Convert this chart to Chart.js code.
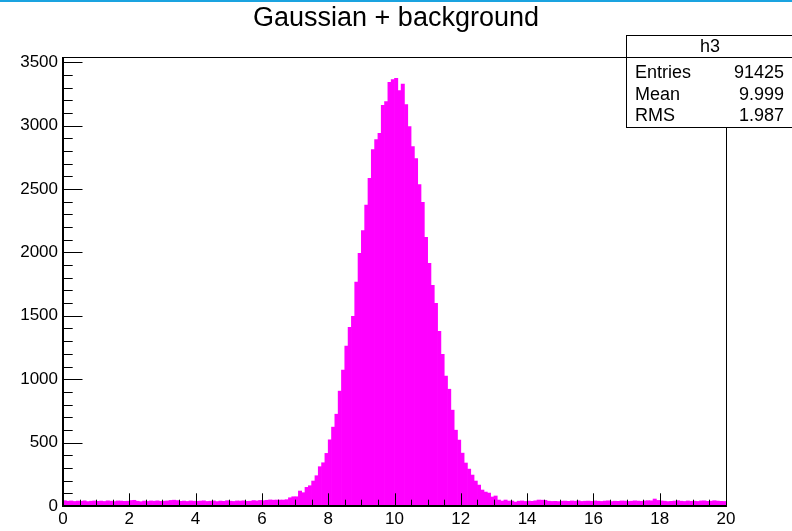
<!DOCTYPE html>
<html>
<head>
<meta charset="utf-8">
<script src="https://cdn.jsdelivr.net/npm/chart.js@4/dist/chart.umd.min.js"></script>
<style>
  html, body { margin: 0; padding: 0; background: #ffffff; }
  #wrap { width: 792px; height: 531px; position: relative; }
</style>
</head>
<body>
<div id="wrap"><canvas id="c" width="792" height="531"></canvas></div>
<script>
// ---- data (histogram h3: 200 bins, 0..20) ----
const histName = "h3";
const chartTitle = "Gaussian + background";
const xMin = 0, xMax = 20, binWidth = 0.1;
const binCounts = [
  // 0.0 - 0.9
  42, 38, 40, 36, 39, 37, 41, 35, 38, 40,
  // 1.0 - 1.9
  37, 39, 36, 41, 38, 35, 40, 39, 37, 38,
  // 2.0 - 2.9
  43, 45, 38, 34, 39, 36, 40, 38, 41, 37,
  // 3.0 - 3.9
  38, 40, 44, 46, 43, 37, 39, 36, 40, 38,
  // 4.0 - 4.9
  37, 39, 41, 36, 38, 40, 35, 39, 37, 42,
  // 5.0 - 5.9
  38, 36, 40, 39, 41, 37, 38, 43, 40, 44,
  // 6.0 - 6.9
  42, 45, 48, 46, 47, 47, 47, 50, 65, 73,
  // 7.0 - 7.9
  73, 118, 105, 147, 160, 197, 239, 310, 341, 415,
  // 8.0 - 8.9
  522, 622, 724, 906, 1071, 1262, 1409, 1496, 1766, 1992,
  // 9.0 - 9.9
  2173, 2373, 2585, 2811, 2890, 2940, 3160, 3189, 3341, 3362,
  // 10.0 - 10.9
  3372, 3276, 3328, 3165, 2992, 2835, 2740, 2535, 2394, 2118,
  // 11.0 - 11.9
  1913, 1740, 1598, 1378, 1197, 1024, 921, 756, 598, 520,
  // 12.0 - 12.9
  417, 339, 291, 244, 197, 165, 126, 110, 102, 71,
  // 13.0 - 13.9
  79, 47, 39, 47, 39, 39, 31, 38, 40, 36,
  // 14.0 - 14.9
  39, 37, 41, 47, 46, 45, 38, 36, 37, 35,
  // 15.0 - 15.9
  38, 39, 37, 40, 38, 41, 36, 38, 39, 37,
  // 16.0 - 16.9
  40, 38, 36, 39, 41, 35, 38, 37, 40, 39,
  // 17.0 - 17.9
  36, 38, 41, 39, 37, 40, 42, 41, 55, 44,
  // 18.0 - 18.9
  40, 38, 35, 37, 39, 42, 38, 36, 40, 37,
  // 19.0 - 19.9
  38, 36, 40, 41, 37, 38, 42, 39, 37, 36
];
const xTickValues = [0, 2, 4, 6, 8, 10, 12, 14, 16, 18, 20];
const yTickValues = [0, 500, 1000, 1500, 2000, 2500, 3000, 3500];
const yAxisMax = 3541;
const statsLabels = ["Entries", "Mean", "RMS"];
const statsValues = ["91425", "9.999", "1.987"];

// bin centres (histogram binning definition)
const binCenters = binCounts.map((_, i) => +(xMin + (i + 0.5) * binWidth).toFixed(3));

// ---- styles ----
const FONT = "'Liberation Sans', Arial, Helvetica, sans-serif";
const xMinorStep = 0.5, yMinorStep = 100;

const rootDecor = {
  id: 'rootDecor',
  beforeDraw(chart) {
    const ctx = chart.ctx;
    ctx.save();
    ctx.fillStyle = '#ffffff';
    ctx.fillRect(0, 0, chart.width, chart.height);
    ctx.restore();
  },
  afterDraw(chart) {
    const ctx = chart.ctx;
    const a = chart.chartArea;
    const xs = chart.scales.x, ys = chart.scales.y;
    ctx.save();
    // ticks (inside frame, over the bars)
    ctx.strokeStyle = '#000000';
    ctx.lineWidth = 1;
    ctx.beginPath();
    for (let v = xMin; v <= xMax + 1e-9; v += xMinorStep) {
      const px = Math.round(xs.getPixelForValue(v)) + 0.5;
      const major = xTickValues.some(t => Math.abs(t - v) < 1e-6);
      const len = major ? 12.7 : 6.3;
      ctx.moveTo(px, a.bottom);
      ctx.lineTo(px, a.bottom - len);
    }
    for (let v = 0; v <= yAxisMax; v += yMinorStep) {
      const py = Math.round(ys.getPixelForValue(v)) + 0.5;
      const major = yTickValues.includes(v);
      const len = major ? 19.5 : 9.7;
      ctx.moveTo(a.left, py);
      ctx.lineTo(a.left + len, py);
    }
    ctx.stroke();
    // frame
    ctx.lineWidth = 1;
    ctx.strokeRect(Math.round(a.left) + 0.5, Math.round(a.top) + 0.5,
                   Math.round(a.right - a.left), Math.round(a.bottom - a.top));
    // axes (slightly heavier)
    ctx.lineWidth = 2;
    ctx.beginPath();
    ctx.moveTo(a.left, a.top);
    ctx.lineTo(a.left, a.bottom);
    ctx.lineTo(a.right, a.bottom);
    ctx.stroke();

    // title
    ctx.fillStyle = '#000000';
    ctx.font = "27px " + FONT;
    ctx.textAlign = 'center';
    ctx.textBaseline = 'middle';
    ctx.fillText(chartTitle, 396, 19);

    // stats box
    const bx = 626.5, by = 35.5, bw = 170, bh = 92;
    ctx.fillStyle = '#ffffff';
    ctx.fillRect(bx, by, bw, bh);
    ctx.lineWidth = 1;
    ctx.strokeStyle = '#000000';
    ctx.strokeRect(bx, by, bw, bh);
    ctx.beginPath();
    ctx.moveTo(bx, 57.5);
    ctx.lineTo(bx + bw, 57.5);
    ctx.stroke();
    ctx.fillStyle = '#000000';
    ctx.font = "18px " + FONT;
    ctx.textAlign = 'center';
    ctx.fillText(histName, 710, 47);
    const rowsY = [73, 95, 116];
    statsLabels.forEach((lab, i) => {
      ctx.textAlign = 'left';
      ctx.fillText(lab, 635, rowsY[i]);
      ctx.textAlign = 'right';
      ctx.fillText(statsValues[i], 784, rowsY[i]);
    });

    // canvas highlight line on top
    ctx.fillStyle = '#1aa3e0';
    ctx.fillRect(0, 0, chart.width, 2);
    ctx.restore();
  }
};

new Chart(document.getElementById('c'), {
  type: 'bar',
  data: {
    labels: binCenters,
    datasets: [{
      label: histName,
      data: binCounts,
      backgroundColor: '#ff00ff',
      borderWidth: 0,
      barPercentage: 1.0,
      categoryPercentage: 1.0
    }]
  },
  options: {
    responsive: false,
    animation: false,
    devicePixelRatio: 1,
    layout: { padding: { left: 0, right: 66, top: 57, bottom: 0 } },
    plugins: {
      legend: { display: false },
      title: { display: false },
      tooltip: { enabled: false }
    },
    scales: {
      x: {
        type: 'linear',
        min: xMin, max: xMax,
        offset: false,
        grid: { display: false, drawTicks: false },
        border: { display: false },
        afterBuildTicks(scale) { scale.ticks = xTickValues.map(v => ({ value: v })); },
        afterFit(scale) { scale.height = 25; },
        ticks: {
          color: '#000000',
          font: { family: FONT, size: 17 },
          padding: 3,
          maxRotation: 0,
          autoSkip: false,
          callback: (v) => String(v)
        }
      },
      y: {
        type: 'linear',
        min: 0, max: yAxisMax,
        grid: { display: false, drawTicks: false },
        border: { display: false },
        afterBuildTicks(scale) { scale.ticks = yTickValues.map(v => ({ value: v })); },
        afterFit(scale) { scale.width = 63; },
        ticks: {
          color: '#000000',
          font: { family: FONT, size: 17 },
          padding: 5,
          callback: (v) => String(v)
        }
      }
    }
  },
  plugins: [rootDecor]
});
</script>
</body>
</html>
